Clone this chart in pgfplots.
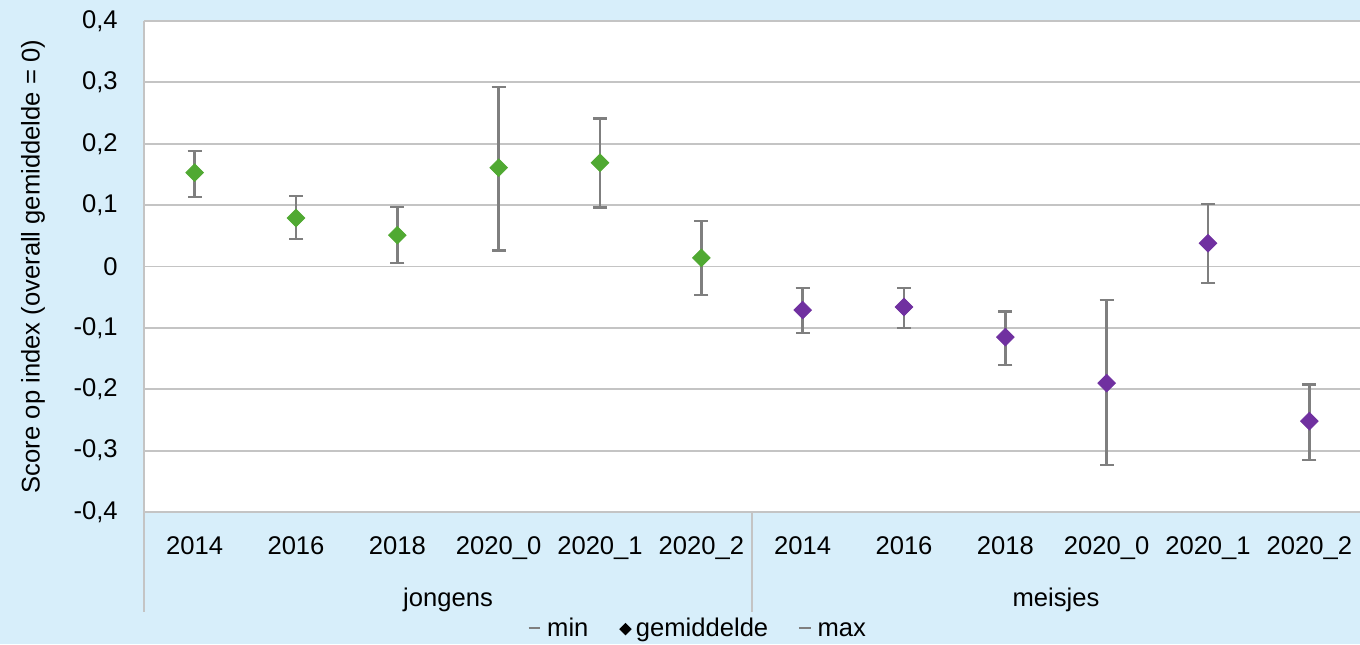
\documentclass[border=0pt]{standalone}
\usepackage{fontspec}
\setmainfont{Liberation Sans}
\usepackage{pgfplots}
\usepackage{pgfplotstable}
\pgfplotsset{compat=1.18}
\definecolor{bgblue}{HTML}{D7EEFA}
\definecolor{gridgray}{HTML}{C4C4C4}
\definecolor{errgray}{HTML}{7F7F7F}
\definecolor{mgreen}{HTML}{50A932}
\definecolor{mpurple}{HTML}{7030A0}

\pgfplotstableread{
x mean min max
0 0.153 0.113 0.188
1 0.079 0.045 0.115
2 0.051 0.006 0.097
3 0.161 0.026 0.292
4 0.169 0.096 0.241
5 0.014 -0.046 0.074
}\jongens

\pgfplotstableread{
x mean min max
6 -0.071 -0.108 -0.035
7 -0.066 -0.100 -0.035
8 -0.115 -0.160 -0.073
9 -0.190 -0.323 -0.055
10 0.038 -0.027 0.102
11 -0.252 -0.315 -0.192
}\meisjes

\begin{document}
\fontsize{12.8}{15}\selectfont
\begin{tikzpicture}
\useasboundingbox (0,0) rectangle (680pt,322pt);
\fill[bgblue] (0,0) rectangle (680pt,322pt);
\begin{axis}[
  at={(72pt,66pt)}, anchor=south west,
  scale only axis, width=608pt, height=245.5pt,
  xmin=-0.5, xmax=11.5, ymin=-0.4, ymax=0.4,
  clip=false,
  axis background/.style={fill=white},
  axis line style={draw=none},
  major tick length=0pt,
  ymajorgrids,
  grid style={draw=gridgray, line width=0.9pt},
  xtick={0,1,2,3,4,5,6,7,8,9,10,11},
  xticklabels={2014,2016,2018,2020\_0,2020\_1,2020\_2,2014,2016,2018,2020\_0,2020\_1,2020\_2},
  ytick={-0.4,-0.3,-0.2,-0.1,0,0.1,0.2,0.3,0.4},
  yticklabel style={xshift=-8.7pt},
  xticklabel style={yshift=-7.7pt},
  /pgf/number format/.cd, use comma, fixed, precision=1, assume math mode=true,
  /pgfplots/.cd,
]
\addplot[only marks, mark=none,
  error bars/.cd, y dir=both, y explicit,
  error bar style={errgray, line width=1.2pt},
  error mark options={errgray, rotate=90, mark size=3.5pt, line width=1.2pt},
  ] table[x=x, y=mean,
    y error plus expr=\thisrow{max}-\thisrow{mean},
    y error minus expr=\thisrow{mean}-\thisrow{min}] {\jongens};
\addplot[only marks, mark=none,
  error bars/.cd, y dir=both, y explicit,
  error bar style={errgray, line width=1.2pt},
  error mark options={errgray, rotate=90, mark size=3.5pt, line width=1.2pt},
  ] table[x=x, y=mean,
    y error plus expr=\thisrow{max}-\thisrow{mean},
    y error minus expr=\thisrow{mean}-\thisrow{min}] {\meisjes};
\addplot[only marks, mark=square*, mark size=3.1pt,
  mark options={rotate=45, fill=mgreen, draw=mgreen}] table[x=x, y=mean] {\jongens};
\addplot[only marks, mark=square*, mark size=3.1pt,
  mark options={rotate=45, fill=mpurple, draw=mpurple}] table[x=x, y=mean] {\meisjes};
\draw[gridgray, line width=1pt] (axis cs:-0.5,0.4) -- ([yshift=-50pt]axis cs:-0.5,-0.4);
\draw[gridgray, line width=1pt] (axis cs:5.5,-0.4) -- ([yshift=-50pt]axis cs:5.5,-0.4);
\node[anchor=center] at ([yshift=-44pt]axis cs:2.5,-0.4) {jongens};
\node[anchor=center] at ([yshift=-44pt]axis cs:8.5,-0.4) {meisjes};
\node[rotate=90, anchor=center] at ([xshift=-55.5pt]axis description cs:0,0.5) {Score op index (overall gemiddelde = 0)};
\node[anchor=center] at ([yshift=-59pt]axis cs:4.96,-0.4) {%
  \textcolor{errgray}{\rule[0.28em]{0.45em}{1pt}}\ min\hspace{1.2em}%
  \raisebox{0.05em}{\tikz\fill[black,rotate=45] (-2.2pt,-2.2pt) rectangle (2.2pt,2.2pt);}\,gemiddelde\hspace{1.2em}%
  \textcolor{errgray}{\rule[0.28em]{0.45em}{1pt}}\ max};
\end{axis}
\end{tikzpicture}
\end{document}
